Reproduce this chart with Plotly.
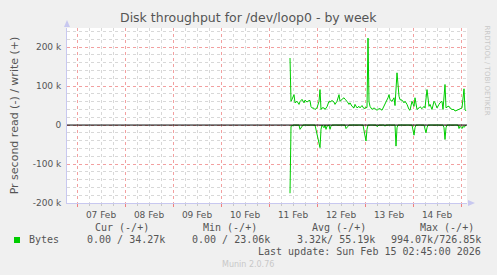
import pandas as pd
import plotly.graph_objects as go

# ---- data ----
base = "2026-02-11 00:00"
write_hours = [10.5, 11.0, 11.5, 12.5, 13.0, 14.0, 15.0, 15.5, 16.5, 17.5, 18.0, 19.0, 20.0, 20.5,
               21.0, 21.5, 22.5, 23.0, 24.0, 25.0, 25.5, 26.0, 26.5, 27.5, 28.0, 29.0, 30.0, 30.5,
               31.5, 32.5, 33.0, 34.0, 35.0, 35.5, 36.5, 37.5, 38.0, 39.0, 40.0, 40.5, 41.5, 42.5,
               43.0, 44.0, 45.0, 45.5, 46.5, 47.5, 48.0, 49.0, 49.5, 50.0, 50.5, 51.5, 52.5, 53.0,
               54.0, 55.0, 55.5, 56.5, 57.5, 58.0, 58.5, 59.5, 60.0, 60.5, 61.5, 62.5, 63.0, 64.0,
               65.0, 65.5, 66.5, 67.5, 68.0, 69.0, 70.0, 70.5, 71.5, 72.5, 73.0, 74.0, 75.0, 75.5,
               76.5, 77.5, 78.0, 79.0, 80.0, 80.5, 81.5, 82.5, 83.0, 84.0, 85.0, 85.5, 86.5, 87.0,
               88.0, 88.5, 89.5, 90.0, 90.5, 91.5, 92.5, 93.0, 94.0, 95.0, 95.5, 96.5, 97.5, 98.0,
               98.5]
write_k = [172, 61, 66, 78, 57, 61, 53, 60, 66, 57, 64, 59, 63, 63,
           47, 44, 43, 40, 44, 61, 91, 40, 44, 44, 40, 47, 61, 59,
           63, 59, 53, 61, 78, 61, 66, 70, 66, 61, 53, 57, 48, 44,
           53, 44, 48, 44, 50, 42, 44, 45, 223, 60, 48, 40, 44, 42,
           38, 42, 42, 38, 48, 55, 61, 70, 78, 65, 61, 70, 50, 134,
           74, 65, 64, 57, 61, 53, 40, 38, 61, 48, 70, 40, 44, 47,
           42, 48, 44, 91, 48, 53, 40, 61, 57, 44, 53, 57, 61, 40,
           104, 44, 48, 48, 44, 40, 40, 36, 38, 40, 42, 44, 93, 40,
           36]

read_hours = [10.5, 11.0, 12.5, 15.0, 15.5, 16.5, 17.0, 23.0, 23.5, 24.5, 25.5, 26.0, 26.5, 27.5,
              28.0, 28.5, 29.0, 30.0, 30.5, 31.0, 31.5, 38.0, 38.5, 39.5, 40.0, 47.0, 47.5, 48.5,
              49.0, 49.5, 53.5, 54.0, 55.0, 57.5, 58.0, 58.5, 63.0, 63.5, 64.0, 64.5, 71.5, 72.0,
              72.5, 73.0, 73.5, 77.5, 78.0, 78.5, 79.0, 79.5, 87.0, 87.5, 88.0, 88.5, 89.0, 94.5,
              95.0, 95.5, 96.5, 97.0, 97.5, 98.5]
read_k = [175, 3, 0, 0, 11, 3, 0, 0, 11, 32, 58, 11, 0, 7,
          0, 11, 3, 0, 11, 3, 0, 0, 9, 3, 0, 0, 11, 41,
          11, 0, 0, 4, 0, 0, 3, 0, 0, 54, 7, 0, 0, 11,
          26, 7, 0, 0, 11, 20, 7, 0, 0, 7, 37, 7, 0, 0,
          9, 3, 9, 3, 6, 0]

y_tick_vals = [-200000, -100000, 0, 100000, 200000]
y_tick_text = ["-200 k", "-100 k", "0", "100 k", "200 k"]

legend_headers = ["Cur (-/+)", "Min (-/+)", "Avg (-/+)", "Max (-/+)"]
legend_values = ["0.00 / 34.27k", "0.00 / 23.06k", "3.32k/ 55.19k", "994.07k/726.85k"]
series_name = "Bytes"
title_text = "Disk throughput for /dev/loop0 - by week"
last_update = "Last update: Sun Feb 15 02:45:00 2026"

# ---- figure ----
t0 = pd.Timestamp(base)
wx = [t0 + pd.Timedelta(hours=h) for h in write_hours]
rx = [t0 + pd.Timedelta(hours=h) for h in read_hours]
wy = [v * 1000 for v in write_k]
ry = [-v * 1000 for v in read_k]

GREEN = "#00CC00"
TXT = "#555555"
W, H = 497, 275
L, R, T, B = 67, 30, 28, 72
pw, ph = W - L - R, H - T - B

def px(x):
    return (x - L) / pw

def py(y):
    return (H - B - y) / ph

fig = go.Figure()
fig.add_trace(go.Scatter(x=rx, y=ry, mode="lines", line=dict(color=GREEN, width=1), hoverinfo="skip"))
fig.add_trace(go.Scatter(x=wx, y=wy, mode="lines", line=dict(color=GREEN, width=1), hoverinfo="skip"))

fig.update_layout(
    width=W, height=H,
    margin=dict(l=L, r=R, t=T, b=B),
    paper_bgcolor="#F0F0F0",
    plot_bgcolor="#FFFFFF",
    showlegend=False,
    font=dict(family="DejaVu Sans", size=9, color=TXT),
)

fig.update_xaxes(
    type="date",
    range=["2026-02-06 19:00", "2026-02-15 03:00"],
    tick0="2026-02-07", dtick=86400000,
    tickformat="%d %b", ticklabelmode="period",
    showgrid=True, gridcolor="#F2A0A0", griddash="dot", gridwidth=1,
    ticks="outside", ticklen=3, tickcolor="#F08080",
    minor=dict(dtick=21600000, showgrid=True, gridcolor="#D8D8D8", griddash="dot",
               ticks="outside", ticklen=2, tickcolor="#C8C8C8"),
    showline=True, linecolor="#C8C8F0", linewidth=1,
    zeroline=False, fixedrange=True,
    tickfont=dict(size=9, color=TXT),
)
fig.update_yaxes(
    range=[-200000, 249000],
    tickvals=y_tick_vals, ticktext=y_tick_text,
    showgrid=True, gridcolor="#F2A0A0", griddash="dot", gridwidth=1,
    minor=dict(dtick=20000, tick0=0, showgrid=True, gridcolor="#D8D8D8", griddash="dot"),
    showline=True, linecolor="#C8C8F0", linewidth=1,
    zeroline=False, ticks="", fixedrange=True, ticklabelstandoff=3,
    tickfont=dict(size=9, color=TXT),
    title=dict(text="Pr second read (-) / write (+)", font=dict(size=11, color=TXT), standoff=11),
)

shapes = []
# zero rule on top
shapes.append(dict(type="line", xref="paper", yref="y", x0=0, x1=1, y0=0, y1=0,
                   line=dict(color="#000000", width=1), layer="above"))
# axis arrows
shapes.append(dict(type="path", xref="paper", yref="paper",
                   path=f"M {px(64)} {py(27)} L {px(70)} {py(27)} L {px(67)} {py(20)} Z",
                   fillcolor="#C8C8F0", line=dict(width=0)))
shapes.append(dict(type="path", xref="paper", yref="paper",
                   path=f"M {px(468)} {py(200)} L {px(468)} {py(206)} L {px(475)} {py(203)} Z",
                   fillcolor="#C8C8F0", line=dict(width=0)))
# legend square
shapes.append(dict(type="rect", xref="paper", yref="paper",
                   x0=px(14), x1=px(20), y0=py(243), y1=py(237),
                   fillcolor=GREEN, line=dict(width=0)))
fig.update_layout(shapes=shapes)

MONO = "DejaVu Sans Mono"
ann = []
ann.append(dict(text=title_text, x=px(248), y=py(18), xref="paper", yref="paper",
                showarrow=False, xanchor="center", yanchor="middle",
                font=dict(family="DejaVu Sans", size=12.5, color=TXT)))
ann.append(dict(text="RRDTOOL / TOBI OETIKER", x=px(486.5), y=py(70), xref="paper", yref="paper",
                showarrow=False, textangle=90, xanchor="center", yanchor="middle",
                font=dict(family="DejaVu Sans", size=7, color="#C8C8C8")))
header_right = [151, 259.3, 367.7, 476]
value_right = [166.7, 272.3, 377.3, 482.7]
for txt, xr in zip(legend_headers, header_right):
    ann.append(dict(text=txt, x=px(xr), y=py(227.5), xref="paper", yref="paper",
                    showarrow=False, xanchor="right", yanchor="middle",
                    font=dict(family=MONO, size=10, color=TXT)))
for txt, xr in zip(legend_values, value_right):
    ann.append(dict(text=txt, x=px(xr), y=py(239.8), xref="paper", yref="paper",
                    showarrow=False, xanchor="right", yanchor="middle",
                    font=dict(family=MONO, size=10, color=TXT)))
ann.append(dict(text=series_name, x=px(26.5), y=py(239.8), xref="paper", yref="paper",
                showarrow=False, xanchor="left", yanchor="middle",
                font=dict(family=MONO, size=10, color=TXT)))
ann.append(dict(text=last_update, x=px(482.7), y=py(251.8), xref="paper", yref="paper",
                showarrow=False, xanchor="right", yanchor="middle",
                font=dict(family=MONO, size=10, color=TXT)))
ann.append(dict(text="Munin 2.0.76", x=px(248), y=py(264), xref="paper", yref="paper",
                showarrow=False, xanchor="center", yanchor="middle",
                font=dict(family="DejaVu Sans", size=8, color="#C8C8C8")))
fig.update_layout(annotations=ann)

fig.write_html("out.html")
